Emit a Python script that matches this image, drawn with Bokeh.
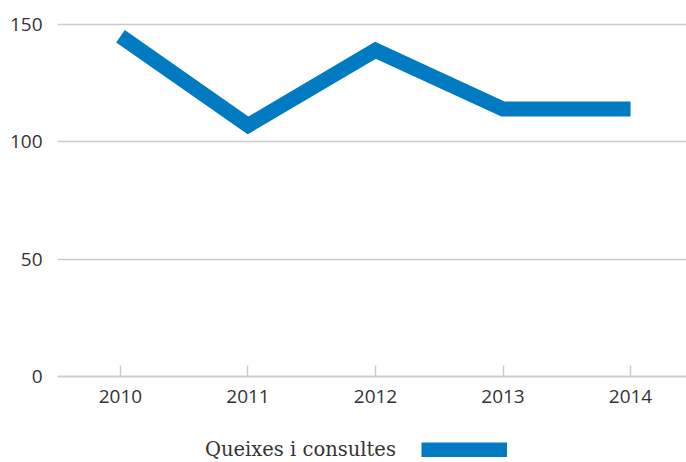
from bokeh.plotting import figure
from bokeh.models import Range1d, FixedTicker, Legend, LegendItem
from bokeh.embed import file_html
from bokeh.resources import INLINE

years = [2010, 2011, 2012, 2013, 2014]
values = [145, 107, 139, 114, 114]
y_ticks = [0, 50, 100, 150]
series_name = "Queixes i consultes"
color = "#007bc2"

p = figure(width=686, height=462, output_backend="svg", toolbar_location=None,
           x_range=Range1d(2009.506, 2014.439), y_range=Range1d(-36.65, 160.23),
           min_border_left=57, min_border_right=0, min_border_top=0, min_border_bottom=0)
p.outline_line_color = None
p.background_fill_color = "white"
p.border_fill_color = "white"

r = p.line(years, values, line_color=color, line_width=15, line_join="miter", line_cap="butt")
# transparent twin, only used to place the legend text before the swatch
r_text = p.line(years, values, line_color=color, line_alpha=0, line_width=15)

# y axis
p.yaxis.ticker = FixedTicker(ticks=y_ticks)
p.yaxis.axis_line_color = None
p.yaxis.major_tick_line_color = None
p.yaxis.minor_tick_line_color = None
p.yaxis.major_label_standoff = 9
p.yaxis.major_label_text_font = "Open Sans"
p.yaxis.major_label_text_font_size = "19px"
p.yaxis.major_label_text_color = "#333333"

# x axis, drawn at y = 0 inside the frame
p.xaxis.fixed_location = 0
p.xaxis.ticker = FixedTicker(ticks=years)
p.xaxis.axis_line_color = "#cccccc"
p.xaxis.axis_line_width = 1.5
p.xaxis.major_tick_line_color = "#cccccc"
p.xaxis.major_tick_line_width = 1.5
p.xaxis.major_tick_in = 11
p.xaxis.major_tick_out = 0
p.xaxis.minor_tick_line_color = None
p.xaxis.major_label_standoff = 14
p.xaxis.major_label_text_font = "Open Sans"
p.xaxis.major_label_text_font_size = "19px"
p.xaxis.major_label_text_color = "#333333"

p.xgrid.grid_line_color = None
p.ygrid.ticker = FixedTicker(ticks=y_ticks)
p.ygrid.grid_line_color = "#cccccc"
p.ygrid.grid_line_width = 1.5

legend = Legend(items=[LegendItem(label=series_name, renderers=[r_text]),
                       LegendItem(label="", renderers=[r])],
                location=(62, 1), orientation="horizontal",
                glyph_width=86, glyph_height=15, label_height=15, label_width=0,
                label_standoff=0,
                label_text_font="DejaVu Serif", label_text_font_size="19.5px",
                label_text_color="#333333",
                padding=0, margin=0, spacing=25,
                border_line_color=None, background_fill_alpha=0)
p.add_layout(legend, "center")

open("out.html", "w").write(file_html(p, INLINE))
